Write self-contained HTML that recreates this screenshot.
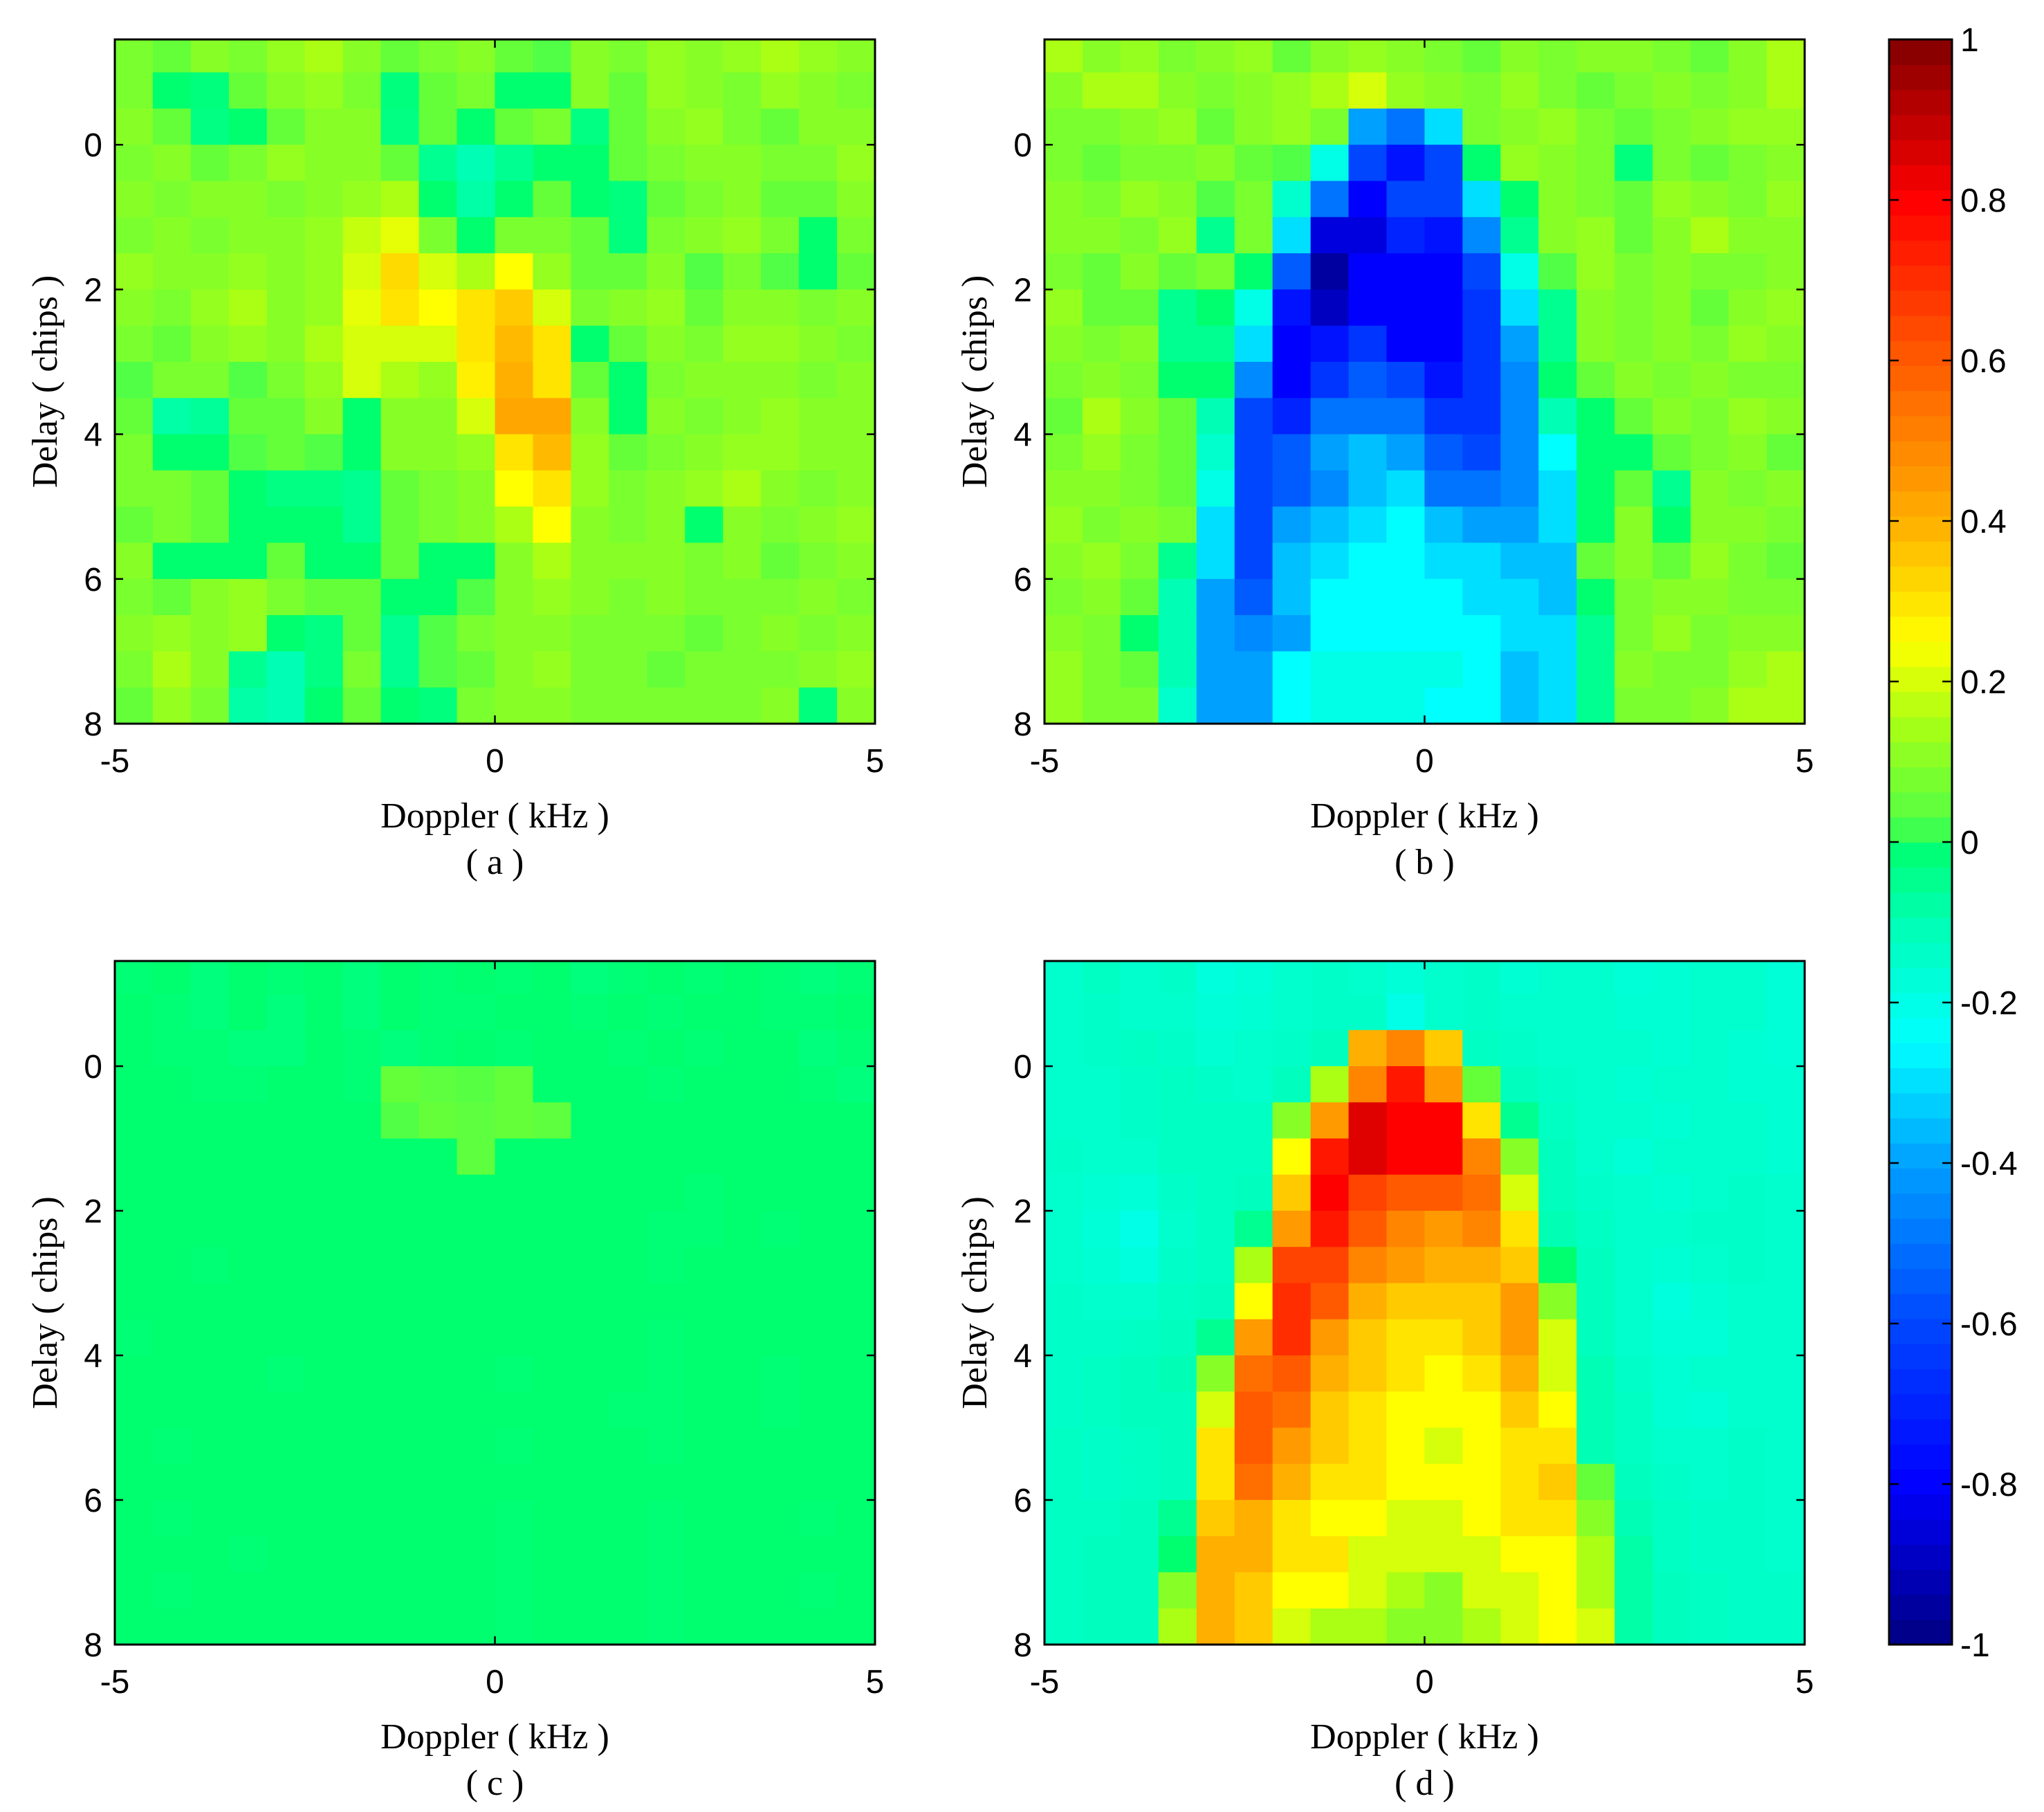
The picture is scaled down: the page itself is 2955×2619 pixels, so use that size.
<!DOCTYPE html>
<html><head><meta charset="utf-8"><style>
body{margin:0;background:#fff;}
svg{display:block;}
</style></head><body>
<svg id="fig" width="2955" height="2619" viewBox="0 0 2955 2619" xmlns="http://www.w3.org/2000/svg"></svg>
<script>
const dopplerTicks=[-5,0,5];
const delayTicks=[0,2,4,6,8];
const cbTicks=[1,0.8,0.6,0.4,0.2,0,-0.2,-0.4,-0.6,-0.8,-1];
const cbLabels=["1","0.8","0.6","0.4","0.2","0","-0.2","-0.4","-0.6","-0.8","-1"];
const panelLetters=["( a )","( b )","( c )","( d )"];
const panelA=[
[.08,.05,.1,.08,.12,.15,.1,.05,.08,.1,.05,.02,.1,.08,.12,.1,.12,.15,.12,.1],
[.08,0,-.02,.05,.1,.12,.08,-.02,.05,.08,0,0,.1,.05,.12,.1,.08,.12,.1,.08],
[.1,.05,-.03,0,.05,.1,.1,-.03,.05,0,.05,.08,-.03,.05,.1,.12,.08,.05,.1,.1],
[.08,.1,.05,.08,.12,.1,.1,.05,-.05,-.1,-.05,0,0,.05,.08,.1,.1,.08,.08,.12],
[.1,.08,.1,.1,.08,.1,.12,.15,0,-.08,0,.05,0,-.02,.05,.08,.1,.05,.05,.1],
[.08,.1,.08,.1,.1,.12,.18,.22,.08,0,.08,.08,.05,-.02,.08,.1,.12,.08,0,.08],
[.12,.1,.1,.12,.1,.12,.2,.32,.2,.15,.25,.12,.05,.05,.1,.02,.08,.02,0,.05],
[.1,.08,.12,.15,.1,.12,.22,.3,.25,.3,.35,.2,.08,.1,.12,.05,.1,.1,.08,.1],
[.08,.05,.1,.12,.1,.15,.2,.2,.2,.3,.38,.3,0,.05,.1,.08,.12,.12,.1,.08],
[.02,.08,.08,.02,.08,.12,.2,.15,.12,.28,.4,.3,.05,0,.08,.1,.1,.1,.08,.1],
[.05,-.08,-.06,.05,.05,.1,0,.1,.1,.2,.42,.42,.1,0,.1,.08,.1,.12,.1,.1],
[.08,0,0,.02,.05,.02,0,.1,.1,.12,.3,.38,.12,.05,.08,.1,.12,.12,.1,.1],
[.08,.08,.05,0,-.03,-.03,-.05,.05,.08,.1,.25,.3,.12,.08,.1,.12,.15,.1,.08,.1],
[.05,.08,.05,0,0,0,-.05,.05,.08,.1,.15,.25,.1,.08,.1,0,.1,.08,.1,.12],
[.1,0,0,0,.05,0,0,.05,0,0,.1,.15,.1,.1,.1,.08,.1,.05,.08,.1],
[.08,.05,.1,.12,.08,.05,.05,0,0,.02,.1,.12,.1,.08,.1,.08,.08,.08,.1,.08],
[.1,.12,.1,.12,0,-.03,.05,-.05,.02,.08,.1,.1,.08,.08,.08,.05,.08,.1,.08,.1],
[.08,.15,.1,-.05,-.1,-.03,.08,-.05,.02,.05,.1,.12,.08,.08,.05,.08,.08,.08,.1,.12],
[.05,.12,.08,-.08,-.1,0,.05,0,-.02,.08,.1,.1,.08,.08,.08,.08,.08,.1,-.02,.1]];
const panelB=[
[.15,.1,.12,.08,.1,.12,.05,.1,.12,.1,.08,.05,.1,.08,.1,.1,.08,.05,.1,.15],
[.1,.15,.15,.1,.08,.1,.12,.15,.2,.12,.1,.08,.12,.08,.05,.08,.1,.08,.1,.15],
[.08,.08,.1,.12,.05,.1,.12,.08,-.4,-.5,-.3,.08,.1,.12,.08,.05,.08,.1,.12,.12],
[.08,.05,.08,.08,.1,.05,.02,-.2,-.6,-.75,-.6,0,.12,.1,.08,-.02,.08,.05,.08,.1],
[.1,.08,.12,.1,.02,.08,-.15,-.5,-.8,-.6,-.6,-.3,0,.1,.08,.05,.12,.1,.08,.12],
[.1,.1,.08,.12,-.05,.08,-.3,-.85,-.85,-.7,-.75,-.45,-.05,.1,.12,.05,.1,.15,.1,.1],
[.08,.05,.1,.05,.08,0,-.55,-.95,-.8,-.8,-.8,-.6,-.2,.02,.12,.08,.1,.08,.08,.1],
[.12,.05,.05,-.05,0,-.2,-.75,-.9,-.8,-.8,-.8,-.65,-.3,-.05,.1,.08,.1,.05,.1,.12],
[.1,.08,.1,-.05,-.05,-.3,-.8,-.75,-.65,-.8,-.8,-.65,-.4,-.05,.1,.08,.1,.08,.12,.1],
[.08,.1,.08,0,0,-.45,-.8,-.65,-.55,-.6,-.75,-.65,-.45,0,.05,.1,.08,.1,.08,.08],
[.05,.15,.1,.05,-.1,-.6,-.7,-.5,-.5,-.5,-.65,-.65,-.45,-.1,0,.05,.1,.08,.12,.1],
[.08,.12,.08,.05,-.15,-.6,-.55,-.4,-.35,-.4,-.55,-.6,-.45,-.25,0,0,.05,.08,.1,.05],
[.1,.1,.08,.05,-.2,-.6,-.55,-.45,-.35,-.3,-.5,-.5,-.45,-.3,0,.05,-.05,.1,.08,.1],
[.12,.08,.1,.08,-.3,-.6,-.4,-.35,-.3,-.25,-.35,-.4,-.4,-.3,0,.1,0,.1,.1,.08],
[.1,.12,.08,-.05,-.3,-.6,-.35,-.3,-.25,-.25,-.3,-.3,-.35,-.35,.05,.1,.05,.12,.08,.05],
[.08,.1,.05,-.1,-.4,-.55,-.35,-.25,-.25,-.25,-.25,-.3,-.3,-.35,0,.08,.1,.1,.08,.08],
[.1,.08,0,-.1,-.4,-.45,-.4,-.25,-.25,-.25,-.25,-.25,-.3,-.3,-.05,.08,.12,.08,.1,.1],
[.12,.08,.05,-.1,-.4,-.4,-.25,-.2,-.2,-.2,-.2,-.25,-.35,-.3,-.05,.1,.08,.08,.12,.15],
[.12,.08,.08,-.15,-.4,-.4,-.25,-.2,-.2,-.2,-.25,-.25,-.35,-.3,-.05,.08,.08,.1,.15,.15]];
const panelC=[
[-.01,0,-.02,0,-.01,0,-.02,0,-.01,0,-.01,0,-.02,-.01,0,-.01,0,-.01,-.02,-.01],
[0,-.01,-.02,0,-.02,0,-.02,0,-.01,-.01,0,0,-.01,0,-.01,0,0,-.01,-.01,0],
[0,-.01,-.01,-.02,-.02,0,-.01,-.02,-.01,0,-.01,0,0,-.01,0,-.01,0,0,-.02,-.01],
[0,0,-.01,-.01,0,0,-.01,.05,.04,.03,.05,0,0,0,-.01,0,0,0,-.01,-.02],
[0,0,0,0,0,0,0,.02,.05,.04,.05,.04,0,0,0,0,0,0,0,0],
[0,0,0,0,0,0,0,0,0,.04,0,0,0,0,0,0,0,0,0,0],
[0,0,0,0,0,0,0,0,0,0,0,0,0,0,0,-.01,0,0,0,0],
[0,0,0,0,0,0,0,0,0,0,0,0,0,0,-.01,-.01,0,-.01,0,0],
[0,0,-.01,0,0,0,0,0,0,0,0,0,0,0,-.01,0,0,0,0,0],
[0,0,0,0,0,0,0,0,0,0,0,0,0,0,0,0,0,0,0,0],
[-.01,0,0,0,0,0,0,0,0,0,0,0,0,0,-.01,0,0,0,0,0],
[0,0,0,0,-.01,0,0,0,0,0,-.01,0,0,0,-.01,0,0,-.01,0,0],
[0,0,0,0,0,0,0,0,0,0,0,0,0,-.01,-.01,0,0,-.01,0,0],
[0,-.01,0,0,0,0,0,0,0,0,-.01,0,0,0,-.01,0,0,0,0,0],
[0,0,0,0,0,0,0,0,0,0,0,0,0,0,0,0,0,0,0,0],
[0,-.01,0,0,0,0,0,0,0,0,-.01,0,0,0,-.01,0,0,0,-.01,0],
[0,0,0,-.01,0,0,0,0,0,0,-.01,0,0,0,-.01,0,0,0,0,0],
[0,-.01,0,0,0,0,0,0,0,0,-.01,0,0,0,-.01,0,0,0,-.01,0],
[0,0,0,0,0,0,0,0,0,0,-.01,0,0,0,-.01,0,0,0,0,0]];
const panelD=[
[-.15,-.13,-.15,-.14,-.18,-.17,-.15,-.14,-.15,-.17,-.15,-.14,-.16,-.15,-.15,-.17,-.16,-.15,-.15,-.17],
[-.15,-.14,-.15,-.15,-.17,-.16,-.15,-.14,-.14,-.2,-.15,-.14,-.15,-.15,-.15,-.16,-.16,-.15,-.15,-.17],
[-.15,-.14,-.13,-.14,-.16,-.15,-.14,-.12,.4,.5,.35,-.13,-.14,-.15,-.15,-.15,-.16,-.15,-.16,-.17],
[-.15,-.15,-.14,-.13,-.14,-.15,-.12,.15,.5,.75,.45,.05,-.12,-.14,-.15,-.16,-.15,-.15,-.16,-.16],
[-.15,-.15,-.14,-.13,-.13,-.13,.1,.45,.85,.8,.8,.3,-.05,-.13,-.15,-.15,-.16,-.15,-.15,-.16],
[-.14,-.15,-.15,-.13,-.13,-.13,.25,.75,.85,.8,.8,.5,.1,-.12,-.15,-.17,-.15,-.15,-.15,-.16],
[-.15,-.16,-.17,-.14,-.13,-.12,.35,.8,.65,.6,.6,.55,.2,-.12,-.14,-.15,-.16,-.15,-.14,-.15],
[-.15,-.17,-.2,-.15,-.13,-.05,.45,.75,.6,.5,.45,.5,.3,-.1,-.13,-.15,-.15,-.14,-.14,-.15],
[-.15,-.16,-.18,-.14,-.13,.15,.65,.65,.5,.45,.4,.4,.35,0,-.12,-.15,-.16,-.15,-.14,-.15],
[-.14,-.15,-.15,-.13,-.12,.25,.7,.6,.4,.35,.35,.35,.45,.1,-.12,-.15,-.18,-.16,-.15,-.15],
[-.14,-.14,-.13,-.12,-.05,.45,.7,.45,.35,.3,.3,.35,.45,.2,-.12,-.15,-.17,-.17,-.15,-.15],
[-.14,-.13,-.12,-.1,.1,.55,.6,.4,.35,.3,.25,.3,.4,.2,-.1,-.14,-.16,-.15,-.15,-.15],
[-.14,-.13,-.12,-.12,.2,.6,.55,.35,.3,.25,.25,.25,.35,.25,-.1,-.13,-.16,-.17,-.15,-.15],
[-.13,-.14,-.13,-.12,.3,.6,.45,.35,.3,.25,.2,.25,.3,.3,-.1,-.13,-.15,-.15,-.14,-.15],
[-.13,-.14,-.13,-.12,.3,.55,.4,.3,.3,.25,.25,.25,.3,.35,.05,-.12,-.14,-.15,-.14,-.15],
[-.13,-.13,-.12,-.05,.35,.4,.3,.25,.25,.2,.2,.25,.3,.3,.1,-.1,-.13,-.14,-.14,-.15],
[-.13,-.12,-.12,0,.4,.4,.3,.3,.2,.2,.2,.2,.25,.25,.15,-.08,-.13,-.14,-.14,-.15],
[-.13,-.12,-.12,.1,.4,.35,.25,.25,.2,.15,.1,.2,.2,.25,.15,-.08,-.12,-.13,-.14,-.14],
[-.13,-.12,-.12,.15,.4,.35,.2,.15,.15,.1,.1,.15,.2,.25,.2,-.08,-.12,-.13,-.14,-.14]];

const NS="http://www.w3.org/2000/svg";
const svg=document.getElementById('fig');
const stops=[[-1,0,0,128],[-0.8,0,0,255],[-0.6,0,70,255],[-0.4,0,160,255],[-0.25,0,255,255],[-0.1,0,255,180],[0,0,255,110],[0.02,80,255,70],[0.15,170,255,20],[0.25,255,255,0],[0.4,255,175,0],[0.6,255,90,0],[0.8,255,0,0],[1,128,0,0]];
function cmap(v){
  v=Math.max(-1,Math.min(1,v));
  for(let i=0;i<stops.length-1;i++){
    const a=stops[i],b=stops[i+1];
    if(v<=b[0]){const t=(v-a[0])/(b[0]-a[0]);
      return `rgb(${Math.round(a[1]+t*(b[1]-a[1]))},${Math.round(a[2]+t*(b[2]-a[2]))},${Math.round(a[3]+t*(b[3]-a[3]))})`;}
  }
  return 'rgb(128,0,0)';
}
function mk(tag,attrs,parent){const e=document.createElementNS(NS,tag);for(const k in attrs)e.setAttribute(k,attrs[k]);(parent||svg).appendChild(e);return e;}

const panels=[
 {data:panelA,x0:166,x1:1265,y0:57,y1:1046,key:'a'},
 {data:panelB,x0:1510,x1:2609,y0:57,y1:1046,key:'b'},
 {data:panelC,x0:166,x1:1265,y0:1389,y1:2377,key:'c'},
 {data:panelD,x0:1510,x1:2609,y0:1389,y1:2377,key:'d'}];
const dMin=-1.455,dMax=8,fMin=-5,fMax=5,rowStep=0.5,colStep=0.5,rowStart=-1.5;

panels.forEach((p,pi)=>{
  const xS=f=>p.x0+(f-fMin)/(fMax-fMin)*(p.x1-p.x0);
  const yS=d=>p.y0+(d-dMin)/(dMax-dMin)*(p.y1-p.y0);
  const g=mk('g',{});
  
  
  const cp=mk('clipPath',{id:'clip'+p.key},g);
  mk('rect',{x:p.x0,y:p.y0,width:p.x1-p.x0,height:p.y1-p.y0},cp);
  const hm=mk('g',{'clip-path':`url(#clip${p.key})`},g);
  
  
  p.data.forEach((row,ri)=>{
    row.forEach((v,ci)=>{
      const xa=xS(fMin+ci*colStep),xb=xS(fMin+(ci+1)*colStep);
      const ya=yS(rowStart+ri*rowStep),yb=yS(rowStart+(ri+1)*rowStep);
      const r=mk('rect',{x:xa.toFixed(1),y:ya.toFixed(1),width:(xb-xa+0.8).toFixed(1),height:(yb-ya+0.8).toFixed(1),fill:cmap(v)},hm);
      
      
    });
  });
  const box=mk('rect',{x:p.x0,y:p.y0,width:p.x1-p.x0,height:p.y1-p.y0,fill:'none',stroke:'#000','stroke-width':3},g);
  
  
  delayTicks.forEach(d=>{
    const y=yS(d);
    mk('line',{x1:p.x0,x2:p.x0+12,y1:y,y2:y,stroke:'#000','stroke-width':2.5},g);
    mk('line',{x1:p.x1,x2:p.x1-12,y1:y,y2:y,stroke:'#000','stroke-width':2.5},g);
    const t=mk('text',{x:p.x0-18,y:y+17,'text-anchor':'end','font-family':'Liberation Sans, sans-serif','font-size':48},g);
    t.textContent=d;
    
    
  });
  dopplerTicks.forEach(f=>{
    const x=xS(f);
    mk('line',{x1:x,x2:x,y1:p.y1,y2:p.y1-12,stroke:'#000','stroke-width':2.5},g);
    mk('line',{x1:x,x2:x,y1:p.y0,y2:p.y0+12,stroke:'#000','stroke-width':2.5},g);
    const t=mk('text',{x:x,y:p.y1+70,'text-anchor':'middle','font-family':'Liberation Sans, sans-serif','font-size':48},g);
    t.textContent=f;
    
    
  });
  const cx=(p.x0+p.x1)/2;
  const xl=mk('text',{x:cx,y:p.y1+150,'text-anchor':'middle','font-family':'Liberation Serif, serif','font-size':52},g);
  xl.textContent='Doppler ( kHz )';
  
  
  const pl=mk('text',{x:cx,y:p.y1+217,'text-anchor':'middle','font-family':'Liberation Serif, serif','font-size':52},g);
  pl.textContent=panelLetters[pi];
  
  
  const ly=(p.y0+p.y1)/2, lx=p.x0-84;
  const yl=mk('text',{x:lx,y:ly,'text-anchor':'middle','font-family':'Liberation Serif, serif','font-size':52,transform:`rotate(-90 ${lx} ${ly})`},g);
  yl.textContent='Delay ( chips )';
  
  
});

// colorbar
const cbx0=2731,cbx1=2822,cby0=57,cby1=2377;
const cb=mk('g',{});


const cbY=v=>cby1-(v+1)/2*(cby1-cby0);
const nSteps=64;
for(let i=0;i<nSteps;i++){
  const va=-1+2*i/nSteps, vb=-1+2*(i+1)/nSteps;
  const r=mk('rect',{x:cbx0,y:cbY(vb).toFixed(1),width:cbx1-cbx0,height:(cbY(va)-cbY(vb)+0.8).toFixed(1),fill:cmap((va+vb)/2)},cb);
  
  
}
mk('rect',{x:cbx0,y:cby0,width:cbx1-cbx0,height:cby1-cby0,fill:'none',stroke:'#000','stroke-width':3},cb);
cbTicks.forEach((v,i)=>{
  const y=cbY(v);
  mk('line',{x1:cbx0,x2:cbx0+14,y1:y,y2:y,stroke:'#000','stroke-width':2.5},cb);
  mk('line',{x1:cbx1,x2:cbx1-14,y1:y,y2:y,stroke:'#000','stroke-width':2.5},cb);
  const t=mk('text',{x:2834,y:y+17,'font-family':'Liberation Sans, sans-serif','font-size':48},cb);
  t.textContent=cbLabels[i];
  
  
});
</script>
</body></html>
